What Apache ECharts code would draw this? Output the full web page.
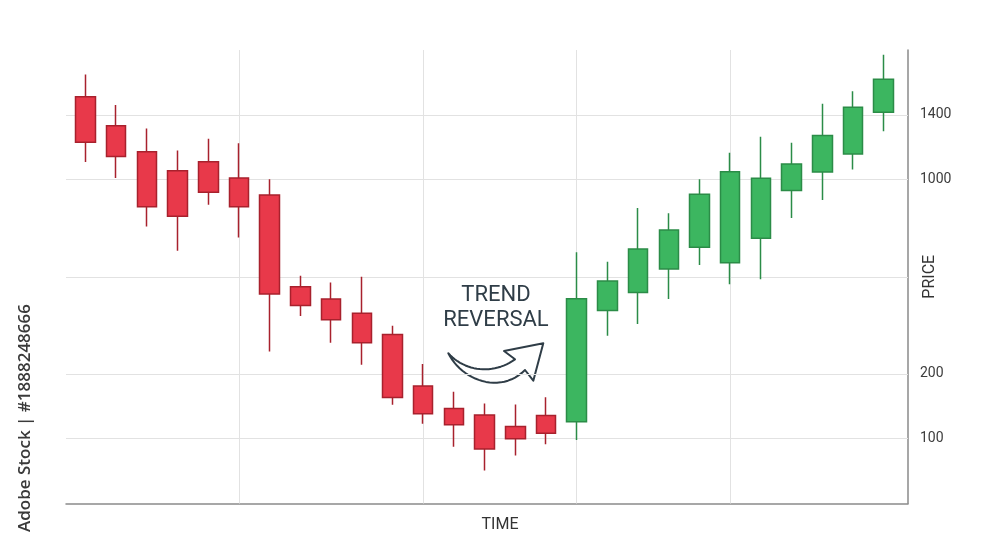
<!DOCTYPE html>
<html>
<head>
<meta charset="utf-8">
<title>Trend Reversal</title>
<script src="https://cdn.jsdelivr.net/npm/echarts@6/dist/echarts.min.js"></script>
<style>
  html, body { margin: 0; padding: 0; background: #fff; }
  #chart { width: 1000px; height: 558px; }
</style>
</head>
<body>
<div id="chart"></div>
<script>
// candles on a stylised price scale (chart levels); [open, close, low, high]
const categories = ['1', '2', '3', '4', '5', '6', '7', '8', '9', '10', '11', '12', '13', '14',
  '15', '16', '17', '18', '19', '20', '21', '22', '23', '24', '25', '26', '27']
const opens  = [12.56, 11.66, 10.86, 10.27, 10.55, 10.05, 9.52, 6.69, 6.31, 5.87, 5.22, 3.63, 2.93, 2.73,
  2.38, 2.72, 2.52, 5.96, 6.51, 7.24, 7.91, 7.43, 8.19, 9.66, 10.23, 10.79, 12.08]
const closes = [11.15, 10.71, 9.16, 8.87, 9.61, 9.16, 6.47, 6.11, 5.67, 4.96, 3.27, 2.77, 2.43, 1.68,
  2.00, 2.17, 6.32, 6.87, 7.86, 8.44, 9.55, 10.24, 10.04, 10.48, 11.36, 12.23, 13.10]
const lows   = [10.54, 10.05, 8.55, 7.80, 9.22, 8.21, 4.69, 5.79, 4.96, 4.28, 3.05, 2.46, 1.75, 1.02,
  1.48, 1.83, 1.96, 5.18, 5.54, 6.31, 7.36, 6.77, 6.92, 8.81, 9.37, 10.31, 11.49]
const highs  = [13.24, 12.30, 11.58, 10.90, 11.26, 11.12, 10.01, 7.03, 6.82, 7.00, 5.49, 4.31, 3.45, 3.09,
  3.06, 3.28, 7.76, 7.46, 9.12, 8.96, 10.01, 10.83, 11.32, 11.14, 12.34, 12.73, 13.85]

// price grid: levels where the horizontal lines sit and their labels
const gridLevels = [2, 4, 7, 10, 12]
const priceLabels = ['100', '200', '', '1000', '1400']
// candles that carry a vertical grid line
const timeGridIdx = [5, 11, 16, 21]

// [time index, open, close, low, high]
const candleData = categories.map((c, i) => [i, opens[i], closes[i], lows[i], highs[i]])

// sample a cubic bezier into points (for the curved arrow outline)
const cubic = (p0, p1, p2, p3, n) => {
  const pts = []
  for (let k = 0; k <= n; k++) {
    const t = k / n, u = 1 - t
    pts.push([
      u * u * u * p0[0] + 3 * u * u * t * p1[0] + 3 * u * t * t * p2[0] + t * t * t * p3[0],
      u * u * u * p0[1] + 3 * u * u * t * p1[1] + 3 * u * t * t * p2[1] + t * t * t * p3[1]
    ])
  }
  return pts
}
const arrowPts = []
  .concat(cubic([448.3, 353.3], [461.7, 380], [500, 395], [525, 370], 24))
  .concat([[533.3, 380.7], [543.3, 343.3], [504, 351]])
  .concat(cubic([515, 359.3], [493.3, 375], [465, 371.7], [448.3, 353.3], 24))

const chart = echarts.init(document.getElementById('chart'))

const option = {
  backgroundColor: '#ffffff',
  animation: false,
  textStyle: { fontFamily: 'Roboto, sans-serif' },
  grid: { left: 66, right: 92, top: 50, bottom: 54.5 },
  xAxis: {
    type: 'value',
    min: -0.635,
    max: 26.79,
    axisLine: { onZero: false, lineStyle: { color: '#8a8a8a', width: 1.5 } },
    axisTick: { show: false },
    axisLabel: { show: false },
    splitLine: { show: false },
    name: 'TIME',
    nameLocation: 'middle',
    nameGap: 13,
    nameMoveOverlap: false,
    nameTextStyle: { fontSize: 16, color: '#333', padding: [0, 0, 0, 26] }
  },
  yAxis: {
    type: 'value',
    position: 'right',
    min: 0,
    max: 14,
    interval: 1,
    axisLine: { show: true, onZero: false, lineStyle: { color: '#8a8a8a', width: 1.5 } },
    axisTick: { show: false },
    splitLine: { show: false },
    axisLabel: {
      margin: 12,
      fontSize: 14,
      color: '#3c3c3c',
      padding: [3, 0, 0, 0],
      formatter: function (v) {
        const i = gridLevels.indexOf(v)
        return i >= 0 ? priceLabels[i] : ''
      }
    },
    name: 'PRICE',
    nameLocation: 'middle',
    nameRotate: 90,
    nameGap: 14,
    nameMoveOverlap: false,
    nameTextStyle: { fontSize: 16, color: '#333' }
  },
  series: [
    {
      type: 'candlestick',
      data: candleData,
      encode: { x: 0, y: [1, 2, 3, 4] },
      barWidth: 20,
      z: 2,
      itemStyle: {
        color: '#3cb660',
        color0: '#e8394a',
        borderColor: '#2b8c47',
        borderColor0: '#a8212d',
        borderWidth: 1.5
      },
      markLine: {
        silent: true,
        symbol: 'none',
        z: 1,
        label: { show: false },
        lineStyle: { color: '#e2e2e2', type: 'solid', width: 1 },
        data: gridLevels.map(v => ({ yAxis: v }))
          .concat(timeGridIdx.map(i => ({ xAxis: i })))
      }
    }
  ],
  graphic: [
    {
      type: 'text',
      x: 496,
      y: 308,
      style: {
        text: 'TREND\nREVERSAL',
        align: 'center',
        verticalAlign: 'middle',
        fontSize: 22,
        lineHeight: 25,
        fontFamily: 'Roboto, sans-serif',
        fill: '#2f3d47'
      }
    },
    {
      type: 'polygon',
      shape: { points: arrowPts },
      style: { fill: '#ffffff', stroke: '#2f3d47', lineWidth: 2, lineJoin: 'round' }
    },
    {
      type: 'text',
      x: 25,
      y: 418,
      rotation: Math.PI / 2,
      style: {
        text: 'Adobe Stock | #1888248666',
        align: 'center',
        verticalAlign: 'middle',
        fontSize: 17,
        fontWeight: 600,
        fontFamily: '"Open Sans", sans-serif',
        fill: '#3a3a3a'
      }
    }
  ]
}

chart.setOption(option)
window.addEventListener('resize', () => chart.resize())
</script>
</body>
</html>
